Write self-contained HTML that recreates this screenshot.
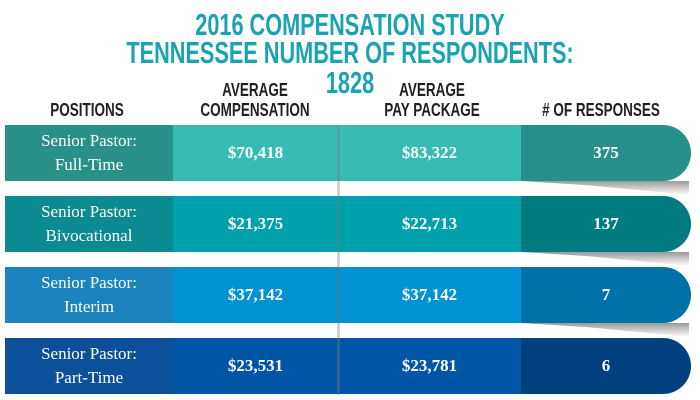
<!DOCTYPE html>
<html><head><meta charset="utf-8"><style>
body{margin:0;width:700px;height:400px;background:#fff;overflow:hidden;position:relative;font-family:"Liberation Sans",sans-serif}
.t{position:absolute;left:0;width:700px;text-align:center;color:#1aa3b3;font-weight:bold;font-size:31px;line-height:30px;transform:scaleX(0.7);transform-origin:350px 0}
.h{position:absolute;text-align:center;color:#231f20;font-weight:bold;font-size:18px;line-height:20px;transform:scaleX(0.75)}
.row{position:absolute;left:5px;width:686px;height:56px}
.c{position:absolute;top:0;height:56px;display:flex;align-items:center;justify-content:center;text-align:center;color:#fff;font-family:"Liberation Serif",serif;font-weight:bold;font-size:17px;line-height:24px}
.sh{position:absolute;left:521px;width:168px;height:14px;background:linear-gradient(to bottom,rgba(0,0,0,.4),rgba(0,0,0,0));clip-path:polygon(0 0,100% 0,100% 100%,40% 30%)}
.vl{position:absolute;left:337px;top:125px;width:3px;height:270px;background:rgba(120,120,120,.35)}
</style></head><body>
<div class="t" style="top:10px">2016 COMPENSATION STUDY</div>
<div class="t" style="top:38px">TENNESSEE NUMBER OF RESPONDENTS: 1828</div>
<div class="h" style="left:17px;width:140px;top:100px">POSITIONS</div>
<div class="h" style="left:180px;width:150px;top:80px">AVERAGE<br>COMPENSATION</div>
<div class="h" style="left:357px;width:150px;top:80px">AVERAGE<br>PAY PACKAGE</div>
<div class="h" style="left:516px;width:170px;top:100px">#&nbsp;OF RESPONSES</div>
<div id="rows"></div>
<script>
const positions=["Senior Pastor:<br>Full-Time","Senior Pastor:<br>Bivocational","Senior Pastor:<br>Interim","Senior Pastor:<br>Part-Time"];
const avgComp=["$70,418","$21,375","$37,142","$23,531"];
const avgPay=["$83,322","$22,713","$37,142","$23,781"];
const responses=["375","137","7","6"];
const pal=[["#2a9188","#36bcb2","#27908a"],["#0b8a92","#00a1ac","#007b82"],["#1b84bf","#0092d2","#0070a9"],["#0d509a","#0055a6","#00407e"]];
const tops=[125,196,267,338];
const root=document.getElementById('rows');
positions.forEach((p,i)=>{
 if(i<3){const s=document.createElement('div');s.className='sh';s.style.top=(tops[i]+56)+'px';
 
 
 root.appendChild(s);}
 const r=document.createElement('div');r.className='row';r.style.top=tops[i]+'px';
 
 
 const cells=[[0,168,p,pal[i][0],'position-cell'],[168,165,avgComp[i],pal[i][1],'avg-compensation-cell'],[333,183,avgPay[i],pal[i][1],'avg-pay-cell'],[516,170,responses[i],pal[i][2],'responses-cell']];
 cells.forEach((c,j)=>{const d=document.createElement('div');d.className='c';d.style.left=c[0]+'px';d.style.width=c[1]+'px';d.style.background=c[3];d.innerHTML=c[2];
 if(j==3){d.style.borderRadius='0 28px 28px 0';}
 if(j==0){d.style.fontWeight='normal';}
 
 
 r.appendChild(d);});
 root.appendChild(r);
});
</script>
<div class="vl"></div>
</body></html>
